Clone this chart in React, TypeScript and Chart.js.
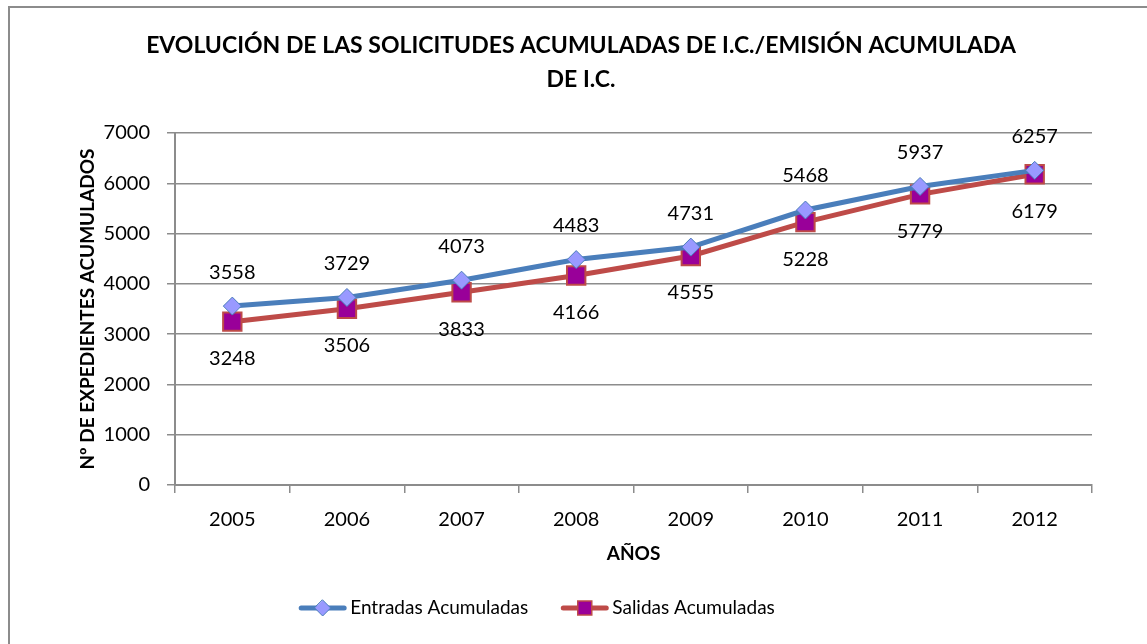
import React, { useEffect, useRef } from "react";
import { Chart, registerables } from "chart.js";

Chart.register(...registerables);

const years = ["2005", "2006", "2007", "2008", "2009", "2010", "2011", "2012"];
const entradas = [3558, 3729, 4073, 4483, 4731, 5468, 5937, 6257];
const salidas = [3248, 3506, 3833, 4166, 4555, 5228, 5779, 6179];
const seriesNames = ["Entradas Acumuladas", "Salidas Acumuladas"];
const titleLines = ["EVOLUCIÓN DE LAS SOLICITUDES ACUMULADAS DE I.C./EMISIÓN ACUMULADA", "DE I.C."];
const yTitle = "Nº DE EXPEDIENTES ACUMULADOS";
const xTitle = "AÑOS";

const FONT = "Lato, 'Open Sans', sans-serif";
const BLUE = "#4A7EBB";
const RED = "#BE4B48";
const DIAMOND = "#9999FF";
const PURPLE = "#990099";

const decorPlugin = {
  id: "decor",
  beforeDraw(chart: any) {
    const ctx = chart.ctx;
    ctx.save();
    ctx.fillStyle = "#ffffff";
    ctx.fillRect(0, 0, chart.width, chart.height);
    ctx.strokeStyle = "#8c8c8c";
    ctx.lineWidth = 2;
    ctx.strokeRect(9, 7, chart.width + 20, chart.height + 20);
    ctx.restore();
  },
  afterDatasetsDraw(chart: any) {
    const ctx = chart.ctx;
    const area = chart.chartArea;
    ctx.save();
    // data labels
    ctx.fillStyle = "#000";
    ctx.font = `20px ${FONT}`;
    ctx.textAlign = "center";
    ctx.textBaseline = "middle";
    chart.data.datasets.forEach((ds: any, di: number) => {
      const meta = chart.getDatasetMeta(di);
      meta.data.forEach((pt: any, i: number) => {
        const dy = di === 0 ? -34 : 37;
        ctx.fillText(String(ds.data[i]), pt.x, pt.y + dy);
      });
    });

    // title
    ctx.font = `bold 23px ${FONT}`;
    ctx.fillText(titleLines[0], 581, 46);
    ctx.fillText(titleLines[1], 581, 80);

    // x title
    ctx.font = `bold 19px ${FONT}`;
    ctx.fillText(xTitle, (area.left + area.right) / 2, 554);

    // y title
    ctx.save();
    ctx.translate(88, (area.top + area.bottom) / 2);
    ctx.rotate(-Math.PI / 2);
    ctx.font = `bold 19px ${FONT}`;
    ctx.fillText(yTitle, 0, 0);
    ctx.restore();

    // legend
    ctx.font = `19px ${FONT}`;
    const lineLen = 47;
    const textGap = 4;
    const itemGap = 33;
    const widths = seriesNames.map((n) => lineLen + textGap + ctx.measureText(n).width);
    const total = widths[0] + widths[1] + itemGap;
    let x = 537 - total / 2;
    const y = 608;
    const styles = [
      { color: BLUE, fill: DIAMOND, shape: "diamond" },
      { color: RED, fill: PURPLE, shape: "square" },
    ];
    seriesNames.forEach((n, i) => {
      const st = styles[i];
      ctx.strokeStyle = st.color;
      ctx.lineWidth = 5;
      ctx.lineCap = "round";
      ctx.beginPath();
      ctx.moveTo(x + 2, y);
      ctx.lineTo(x + lineLen - 2, y);
      ctx.stroke();
      const cx = x + lineLen / 2;
      ctx.fillStyle = st.fill;
      ctx.beginPath();
      if (st.shape === "diamond") {
        ctx.moveTo(cx, y - 8);
        ctx.lineTo(cx + 8, y);
        ctx.lineTo(cx, y + 8);
        ctx.lineTo(cx - 8, y);
        ctx.closePath();
        ctx.fill();
        ctx.lineWidth = 1;
        ctx.strokeStyle = BLUE;
        ctx.stroke();
      } else {
        ctx.rect(cx - 7, y - 7, 14, 14);
        ctx.fill();
        ctx.lineWidth = 1.5;
        ctx.strokeStyle = RED;
        ctx.stroke();
      }
      ctx.fillStyle = "#000";
      ctx.textAlign = "left";
      ctx.fillText(n, x + lineLen + textGap, y);
      x += widths[i] + itemGap;
    });
    ctx.restore();
  },
};

export default function App() {
  const ref = useRef<HTMLCanvasElement | null>(null);
  useEffect(() => {
    if (!ref.current) return;
    const chart = new Chart(ref.current, {
      type: "line",
      data: {
        labels: years,
        datasets: [
          {
            label: seriesNames[0],
            data: entradas,
            borderColor: BLUE,
            borderWidth: 5,
            pointStyle: "rectRot",
            pointRadius: 9,
            pointBackgroundColor: DIAMOND,
            pointBorderColor: BLUE,
            pointBorderWidth: 1,
            tension: 0,
          },
          {
            label: seriesNames[1],
            data: salidas,
            borderColor: RED,
            borderWidth: 5,
            pointStyle: "rect",
            pointRadius: 13,
            pointBackgroundColor: PURPLE,
            pointBorderColor: RED,
            pointBorderWidth: 2,
            tension: 0,
          },
        ],
      },
      options: {
        responsive: false,
        animation: false,
        layout: { padding: { top: 133, right: 55, left: 0, bottom: 0 } },
        plugins: {
          legend: { display: false },
          title: { display: false },
          tooltip: { enabled: false },
        },
        scales: {
          x: {
            offset: true,
            afterFit: (s: any) => {
              s.height = 159;
            },
            grid: {
              offset: true,
              drawOnChartArea: false,
              drawTicks: true,
              tickLength: 8,
              color: "#8c8c8c",
              lineWidth: 1.5,
            },
            border: { color: "#8c8c8c", width: 2 },
            ticks: {
              color: "#000",
              padding: 15,
              font: { family: FONT, size: 20 },
              maxRotation: 0,
            },
          },
          y: {
            min: 0,
            max: 7000,
            afterFit: (s: any) => {
              s.width = 175;
            },
            grid: {
              color: "#8c8c8c",
              lineWidth: 1.5,
              tickLength: 8,
            },
            border: { color: "#8c8c8c", width: 2 },
            ticks: {
              stepSize: 1000,
              color: "#000",
              padding: 17,
              font: { family: FONT, size: 20 },
              callback: (v: any) => String(v),
            },
          },
        },
      },
      plugins: [decorPlugin],
    });
    return () => chart.destroy();
  }, []);
  return (
    <div style={{ position: "absolute", left: 0, top: 0, width: 1147, height: 644 }}>
      <canvas ref={ref} width={1147} height={644} style={{ display: "block" }} />
    </div>
  );
}
